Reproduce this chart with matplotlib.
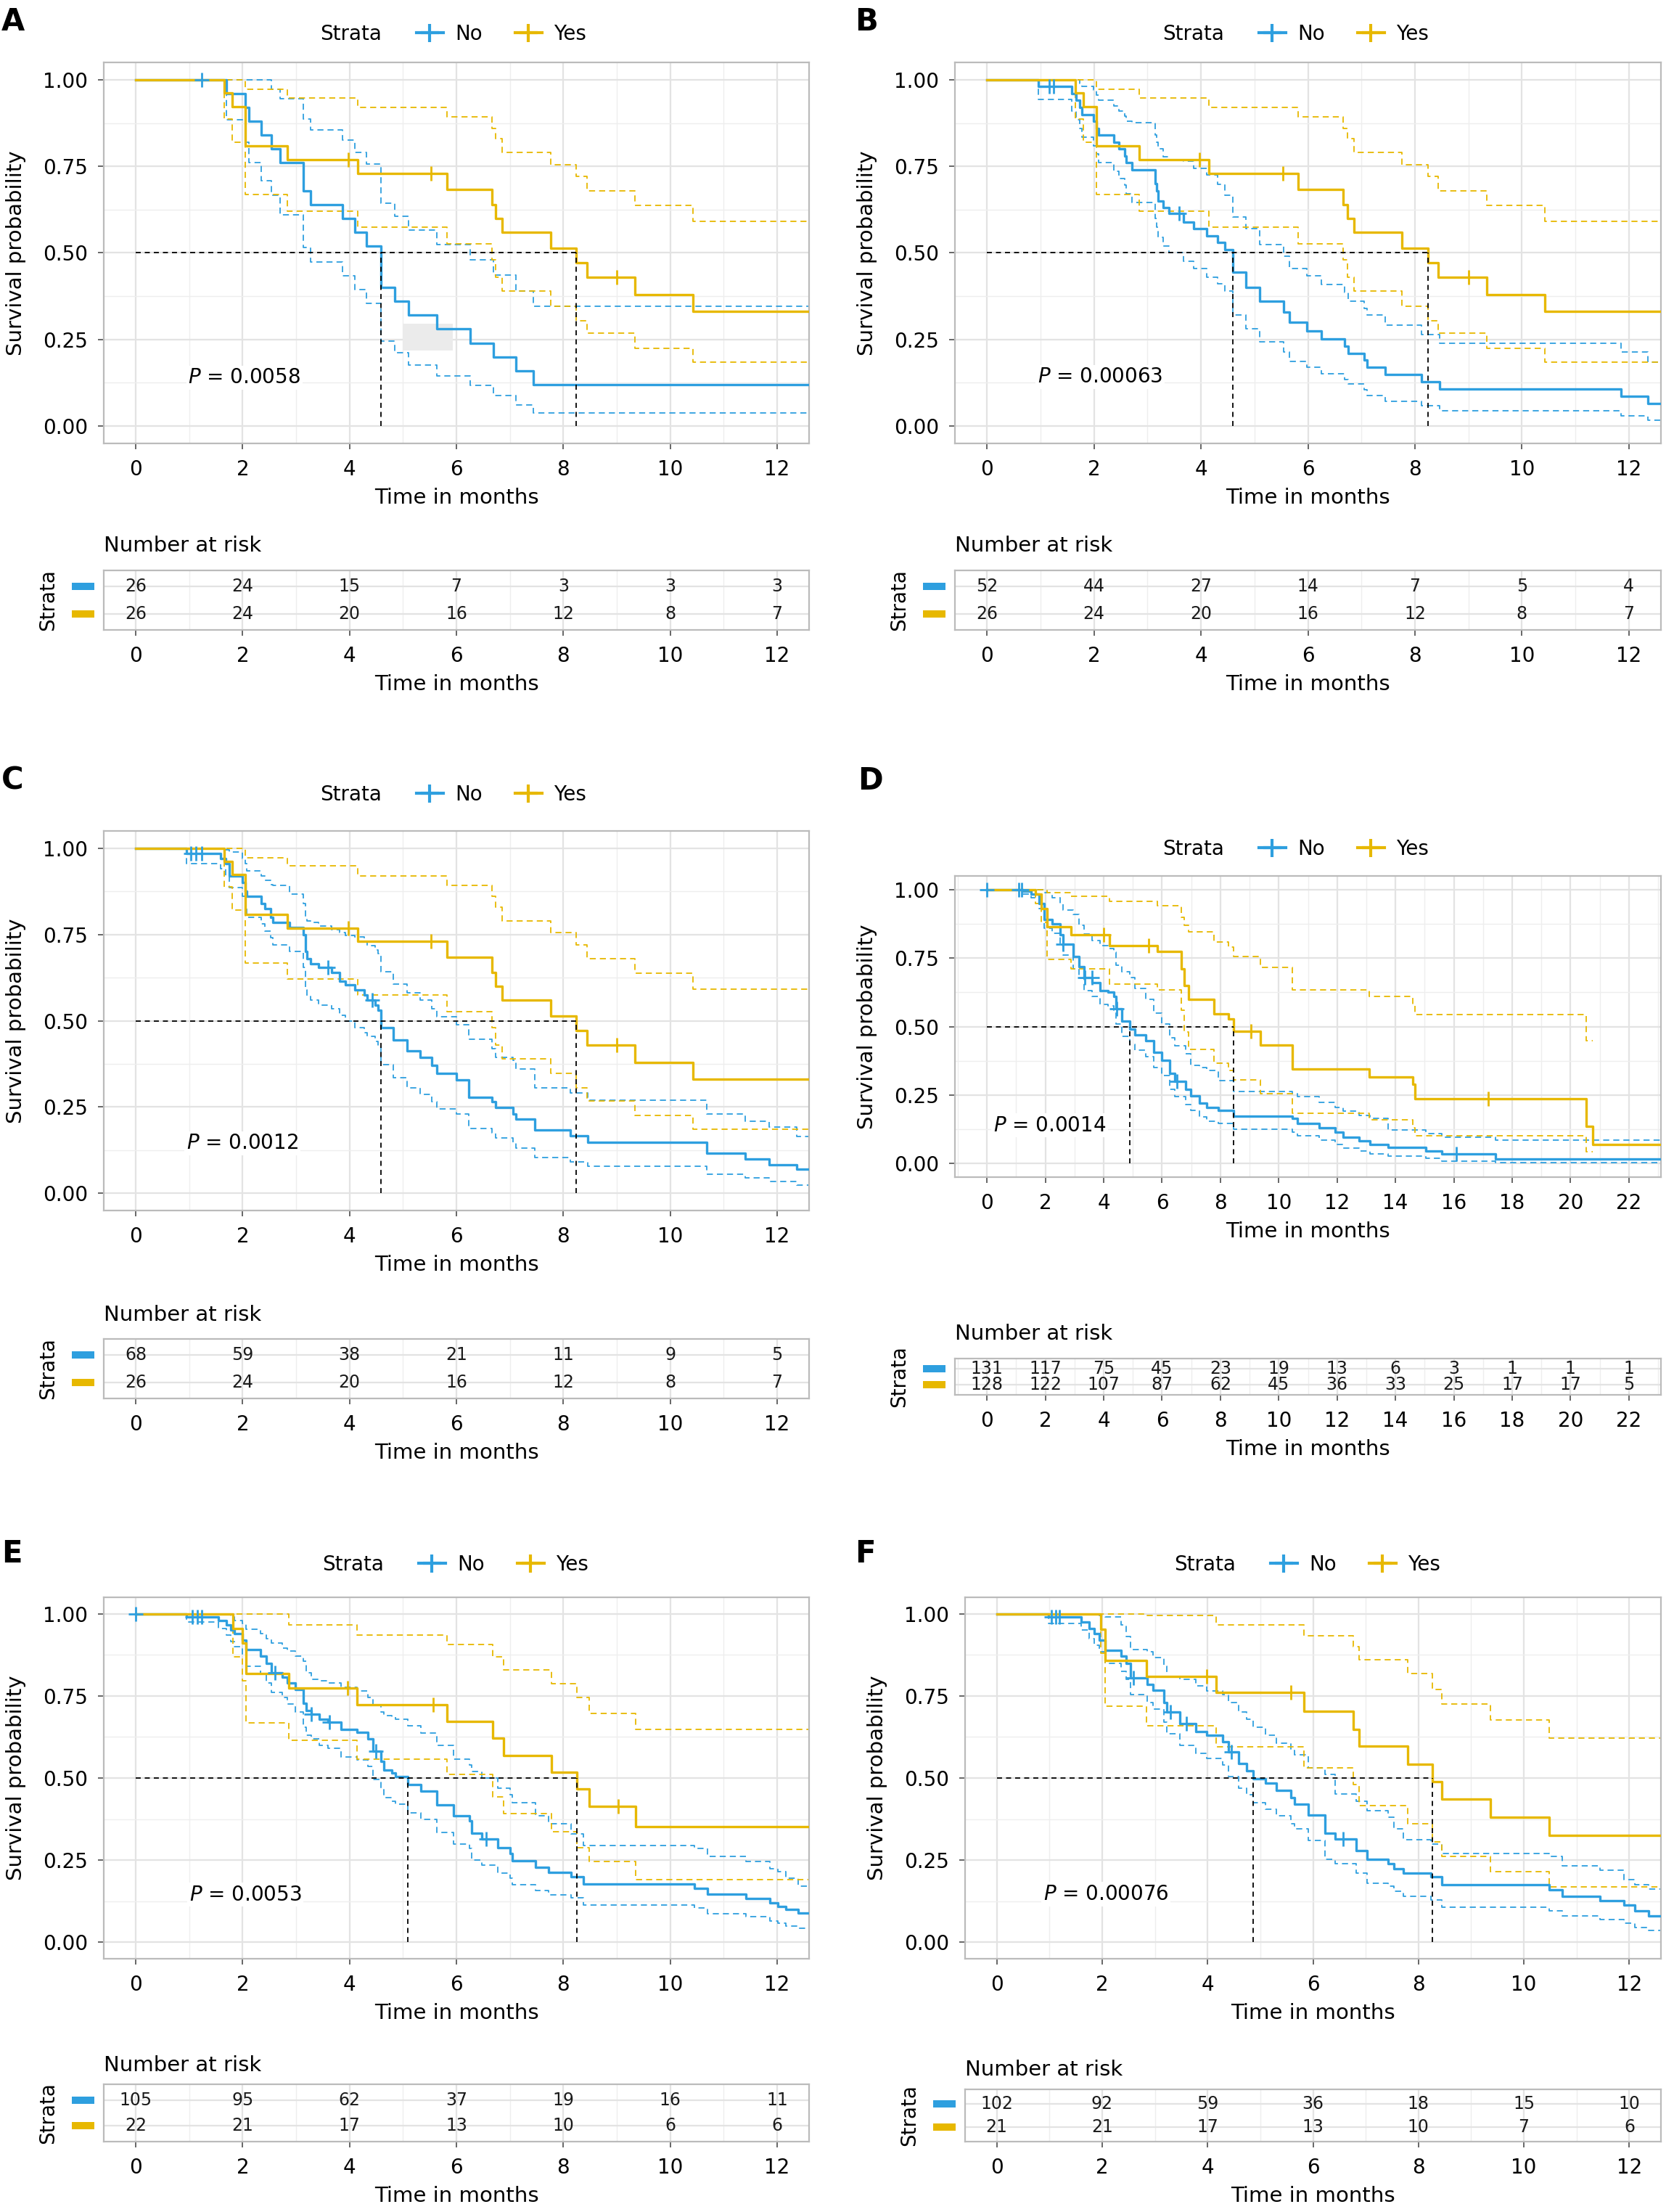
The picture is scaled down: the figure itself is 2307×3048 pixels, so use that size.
import numpy as np
import matplotlib
matplotlib.use("Agg")
import matplotlib.pyplot as plt
from matplotlib.lines import Line2D
from matplotlib.patches import Rectangle

plt.rcParams['font.family'] = ['DejaVu Sans', 'sans-serif']
plt.rcParams['mathtext.fontset'] = 'dejavusans'
plt.rcParams['lines.scale_dashes'] = False

W, H = 2307, 3048
blue, gold = '#2E9FDF', '#E7B800'
strata = ['No', 'Yes']
ticks12 = [0, 2, 4, 6, 8, 10, 12]
ticks22 = [0, 2, 4, 6, 8, 10, 12, 14, 16, 18, 20, 22]

# ---------------- data ----------------
# "Yes" group: same patients in A, B, C
yes_abc_t = [0, 1.65, 1.80, 2.05, 2.84, 4.15, 5.82, 6.66, 6.74, 6.86, 7.76, 8.24, 8.44, 9.34, 10.43]
yes_abc_s = [1, .962, .923, .808, .769, .730, .683, .640, .600, .559, .514, .472, .430, .380, .331]
yes_abc_hi = [1, 1, 1, .972, .948, .920, .892, .860, .830, .790, .755, .720, .680, .637, .592]
yes_abc_lo = [1, .887, .820, .668, .620, .575, .526, .480, .430, .390, .347, .305, .268, .225, .185]
yes_abc_cens = [3.97, 5.53, 9.0]
yes_abc_risk = [26, 24, 20, 16, 12, 8, 7]

# A
a_no_t = [0, 1.70, 2.05, 2.12, 2.35, 2.54, 2.70, 3.14, 3.27, 3.87, 4.10, 4.32, 4.59, 4.84, 5.10, 5.64, 6.26, 6.69, 7.11, 7.44]
a_no_s = [1, .96, .92, .88, .84, .80, .76, .68, .64, .60, .56, .52, .40, .36, .32, .28, .24, .20, .16, .12]
a_no_hi = [1, 1, 1, 1, 1, .972, .946, .887, .856, .826, .790, .756, .643, .605, .565, .524, .480, .437, .390, .345]
a_no_lo = [1, .885, .820, .760, .709, .667, .610, .516, .474, .435, .394, .355, .246, .211, .176, .144, .117, .089, .061, .039]
a_no_cens = [1.23]
a_no_risk = [26, 24, 15, 7, 3, 3, 3]

# B
b_no_t = [0, 0.96, 1.59, 1.67, 1.74, 1.78, 1.99, 2.04, 2.09, 2.37, 2.47, 2.57, 2.60, 2.71, 3.14, 3.17, 3.20, 3.29, 3.40, 3.67,
          3.87, 4.11, 4.31, 4.44, 4.59, 4.84, 5.10, 5.55, 5.65, 5.98, 6.25, 6.68, 6.75, 7.05, 7.10, 7.45, 8.12, 8.46, 11.85, 12.35]
b_no_s = [1, .98, .96, .94, .92, .90, .88, .86, .84, .82, .80, .78, .76, .74, .70, .68, .65, .63, .615, .59,
          .57, .55, .53, .51, .445, .40, .36, .33, .30, .275, .252, .23, .21, .19, .17, .148, .128, .107, .086, .065]
b_no_hi = [1, 1, 1, 1, .99, .98, .97, .955, .94, .925, .91, .895, .88, .876, .84, .82, .80, .778, .77, .765,
           .745, .725, .698, .667, .604, .57, .525, .49, .455, .434, .408, .385, .36, .34, .32, .292, .265, .239, .214, .184]
b_no_lo = [1, .944, .91, .885, .86, .835, .81, .785, .76, .735, .715, .695, .67, .645, .60, .575, .545, .52, .50, .475,
           .455, .43, .41, .39, .32, .281, .244, .215, .187, .169, .152, .135, .122, .105, .089, .071, .058, .045, .03, .018]
b_no_cens = [1.17, 1.24, 3.59]
b_no_risk = [52, 44, 27, 14, 7, 5, 4]

# C
c_no_t = [0, 0.95, 1.58, 1.68, 1.75, 2.00, 2.05, 2.08, 2.35, 2.42, 2.52, 2.57, 2.87, 3.14, 3.17, 3.20, 3.27, 3.42, 3.67, 3.82,
          3.92, 4.10, 4.27, 4.33, 4.48, 4.54, 4.59, 4.82, 5.07, 5.32, 5.54, 5.64, 6.00, 6.23, 6.66, 6.74, 7.06, 7.11, 7.46, 8.13,
          8.46, 10.68, 11.40, 11.85, 12.37]
c_no_s = [1, .985, .97, .955, .92, .90, .875, .86, .84, .825, .80, .785, .77, .75, .70, .68, .665, .655, .64, .615,
          .605, .59, .575, .56, .545, .53, .48, .444, .413, .394, .37, .347, .329, .279, .265, .249, .23, .216, .183, .166,
          .147, .117, .099, .082, .069]
c_no_hi = [1, 1, 1, .995, .99, .97, .955, .934, .92, .906, .895, .892, .867, .84, .80, .79, .784, .775, .765, .755,
           .748, .742, .73, .718, .705, .695, .643, .606, .582, .56, .535, .512, .488, .446, .42, .394, .385, .36, .305, .291,
           .27, .23, .209, .192, .165]
c_no_lo = [1, .955, .94, .92, .885, .86, .83, .80, .78, .76, .74, .72, .70, .655, .59, .57, .56, .545, .535, .515,
           .50, .479, .465, .455, .44, .427, .373, .335, .305, .286, .265, .244, .23, .188, .175, .16, .145, .131, .103, .091,
           .078, .056, .044, .035, .023]
c_no_cens = [1.03, 1.13, 1.23, 3.60, 4.42]
c_no_risk = [68, 59, 38, 21, 11, 9, 5]

# D
d_no_t = [0, 1.23, 1.50, 1.78, 1.96, 2.23, 2.51, 2.60, 2.96, 3.15, 3.33, 3.61, 3.88, 4.15, 4.34, 4.43, 4.61, 4.89, 5.07, 5.44,
          5.71, 5.98, 6.26, 6.44, 6.81, 6.99, 7.27, 7.54, 7.94, 8.45, 10.47, 10.65, 11.38, 11.93, 12.21, 12.76, 13.12, 13.76,
          15.04, 15.59, 17.42]
d_no_s = [1, .995, .985, .95, .89, .875, .835, .80, .755, .72, .68, .66, .63, .625, .61, .565, .52, .49, .47, .449,
          .406, .376, .33, .30, .27, .248, .22, .204, .195, .172, .165, .147, .129, .115, .097, .082, .07, .058, .046, .034, .017]
d_no_hi = [1, 1, 1, 1, .99, .97, .947, .925, .909, .87, .838, .815, .796, .785, .773, .725, .70, .678, .64, .60,
           .55, .51, .46, .43, .40, .358, .35, .34, .302, .263, .255, .245, .222, .205, .19, .175, .165, .121, .11, .095, .085]
d_no_lo = [1, .985, .97, .93, .86, .84, .795, .76, .71, .675, .63, .61, .58, .575, .555, .51, .465, .435, .415, .39,
           .35, .32, .27, .245, .215, .195, .17, .155, .145, .125, .115, .10, .085, .07, .055, .045, .036, .028, .018, .008, .003]
d_no_cens = [0.0, 1.1, 1.2, 2.6, 3.35, 3.6, 4.45, 6.5, 16.09]
d_no_risk = [131, 117, 75, 45, 23, 19, 13, 6, 3, 1, 1, 1]

d_yes_t = [0, 1.65, 1.85, 2.05, 2.87, 4.19, 5.84, 6.66, 6.77, 6.90, 7.78, 8.27, 8.45, 9.37, 10.47, 13.09, 14.59, 14.68, 20.53, 20.77]
d_yes_s = [1, .985, .93, .864, .835, .796, .775, .71, .65, .60, .547, .527, .482, .432, .344, .316, .29, .236, .135, .07]
d_yes_hi = [1, 1, 1, .99, .977, .958, .941, .90, .87, .846, .81, .79, .755, .717, .633, .61, .58, .545, .447, np.nan]
d_yes_lo = [1, .95, .88, .745, .71, .654, .633, .56, .48, .417, .366, .34, .305, .254, .182, .159, .13, .10, .044, np.nan]
d_yes_cens = [4.0, 5.53, 9.04, 17.19]
d_yes_risk = [128, 122, 107, 87, 62, 45, 36, 33, 25, 17, 17, 5]

# E
e_no_t = [0, 0.95, 1.55, 1.70, 1.77, 1.85, 2.00, 2.06, 2.34, 2.44, 2.54, 2.74, 2.84, 2.99, 3.14, 3.19, 3.29, 3.44, 3.59, 3.84,
          4.14, 4.34, 4.44, 4.59, 4.64, 4.79, 4.86, 5.09, 5.34, 5.64, 5.94, 6.24, 6.28, 6.48, 6.78, 7.00, 7.05, 7.48, 7.73, 8.15,
          8.38, 10.45, 10.70, 11.42, 11.87, 12.02, 12.17, 12.39]
e_no_s = [1, .99, .98, .965, .95, .94, .92, .891, .87, .85, .82, .807, .79, .77, .728, .705, .695, .68, .67, .649,
          .639, .62, .581, .55, .525, .515, .505, .48, .46, .419, .386, .37, .332, .315, .287, .27, .248, .228, .213, .20,
          .178, .165, .146, .134, .119, .11, .10, .089]
e_no_hi = [1, 1, 1, 1, .99, .98, .97, .953, .94, .925, .911, .895, .886, .87, .856, .82, .80, .797, .79, .777,
           .765, .745, .72, .70, .69, .685, .68, .66, .637, .60, .557, .54, .52, .50, .47, .45, .426, .385, .36, .33,
           .295, .285, .262, .245, .225, .215, .195, .17]
e_no_lo = [1, .975, .955, .935, .915, .90, .875, .84, .815, .79, .76, .745, .725, .70, .655, .63, .62, .60, .59, .565,
           .555, .535, .495, .465, .44, .43, .42, .395, .375, .335, .30, .285, .25, .235, .21, .195, .175, .158, .145, .135,
           .114, .105, .088, .078, .065, .058, .05, .042]
e_no_cens = [0.0, 1.05, 1.15, 1.23, 2.61, 3.29, 3.62, 4.49, 6.55]
e_no_risk = [105, 95, 62, 37, 19, 16, 11]

e_yes_t = [0, 1.82, 2.00, 2.06, 2.86, 4.14, 5.82, 6.68, 6.88, 7.78, 8.25, 8.48, 9.36]
e_yes_s = [1, .955, .91, .818, .773, .723, .673, .621, .569, .518, .466, .413, .353]
e_yes_hi = [1, 1, 1, 1, .967, .936, .906, .868, .829, .787, .745, .696, .647]
e_yes_lo = [1, .869, .797, .668, .614, .557, .51, .443, .391, .337, .287, .245, .191]
e_yes_cens = [3.96, 5.56, 9.03]
e_yes_risk = [22, 21, 17, 13, 10, 6, 6]

# F
f_no_t = [0, 0.98, 1.60, 1.75, 1.85, 1.95, 2.05, 2.36, 2.46, 2.54, 2.86, 2.96, 3.17, 3.22, 3.47, 3.78, 3.98, 4.28, 4.39, 4.59,
          4.74, 4.87, 5.10, 5.30, 5.58, 5.65, 5.91, 6.23, 6.42, 6.82, 7.03, 7.43, 7.53, 7.72, 8.24, 8.45, 10.48, 10.73, 11.44,
          11.90, 12.10, 12.36]
f_no_s = [1, .99, .975, .955, .94, .92, .888, .87, .85, .805, .785, .768, .73, .70, .665, .641, .63, .61, .58, .545,
          .523, .497, .485, .462, .44, .42, .387, .333, .315, .279, .252, .24, .224, .21, .20, .175, .16, .14, .127, .114,
          .096, .081]
f_no_hi = [1, 1, 1, 1, 1, .995, .99, .965, .93, .891, .885, .867, .84, .81, .80, .78, .765, .753, .73, .70,
           .68, .654, .63, .605, .585, .57, .531, .51, .452, .43, .40, .38, .345, .312, .30, .271, .262, .232, .219, .19,
           .175, .163]
f_no_lo = [1, .97, .95, .925, .905, .885, .85, .825, .80, .755, .73, .71, .67, .635, .60, .575, .56, .54, .505, .47,
           .45, .425, .405, .385, .36, .345, .31, .253, .24, .21, .18, .17, .155, .14, .13, .106, .095, .081, .07, .058,
           .045, .037]
f_no_cens = [1.04, 1.12, 1.19, 2.59, 3.29, 3.6, 4.45, 6.57]
f_no_risk = [102, 92, 59, 36, 18, 15, 10]

f_yes_t = [0, 1.98, 2.05, 2.84, 4.16, 5.83, 6.77, 6.87, 7.79, 8.26, 8.45, 9.36, 10.48]
f_yes_s = [1, .952, .857, .81, .76, .704, .649, .597, .543, .49, .436, .38, .326]
f_yes_hi = [1, 1, 1, .995, .967, .934, .90, .859, .817, .77, .726, .676, .622]
f_yes_lo = [1, .88, .718, .66, .595, .531, .48, .415, .36, .305, .261, .216, .168]
f_yes_cens = [3.98, 5.58]
f_yes_risk = [21, 21, 17, 13, 10, 7, 6]

pvals = {'A': '0.0058', 'B': '0.00063', 'C': '0.0012', 'D': '0.0014', 'E': '0.0053', 'F': '0.00076'}

# ---------------- layout (pixels) ----------------
layout = {
    'A': dict(plot=(143, 86, 1115, 611), table=(143, 786, 1115, 868), nar=752, letter=(2, 9),
              legend=(526, 47), pval=(0.98, 0.14), xlim=(-0.6, 12.6)),
    'B': dict(plot=(1316, 86, 2289, 611), table=(1316, 786, 2289, 868), nar=752, letter=(1178, 9),
              legend=(1687, 47), pval=(0.94, 0.142), xlim=(-0.6, 12.6)),
    'C': dict(plot=(143, 1145, 1115, 1668), table=(143, 1845, 1115, 1927), nar=1812, letter=(2, 1055),
              legend=(526, 1095), pval=(0.95, 0.145), xlim=(-0.6, 12.6)),
    'D': dict(plot=(1316, 1207, 2289, 1622), table=(1316, 1872, 2289, 1922), nar=1838, letter=(1182, 1055),
              legend=(1687, 1170), pval=(0.22, 0.139), xlim=(-1.1, 23.1)),
    'E': dict(plot=(143, 2201, 1115, 2699), table=(143, 2872, 1115, 2951), nar=2846, letter=(2, 2120),
              legend=(529, 2156), pval=(1.0, 0.145), xlim=(-0.6, 12.6)),
    'F': dict(plot=(1330, 2201, 2289, 2699), table=(1330, 2879, 2289, 2951), nar=2852, letter=(1178, 2120),
              legend=(1703, 2156), pval=(0.88, 0.147), xlim=(-0.6, 12.6)),
}

fig = plt.figure(figsize=(W / 100, H / 100), dpi=100)


def px_axes(box):
    l, t, r, b = box
    return fig.add_axes([l / W, 1 - b / H, (r - l) / W, (b - t) / H])


def style_axes(ax, xlim, ticks):
    ax.set_xlim(*xlim)
    ax.set_xticks(ticks)
    minor = [v for v in range(int(np.floor(xlim[0])), int(np.ceil(xlim[1])) + 1)
             if v % 2 == 1 and xlim[0] < v < xlim[1]]
    ax.set_xticks(minor, minor=True)
    ax.grid(which='major', color='#E3E3E3', lw=1.6)
    ax.grid(which='minor', color='#EEEEEE', lw=1.0)
    ax.set_axisbelow(True)
    for sp in ax.spines.values():
        sp.set_color('#BBBBBB')
        sp.set_linewidth(1.6)
    ax.tick_params(which='major', labelsize=20, length=6, width=1.2, color='#4D4D4D', pad=9.5)
    ax.tick_params(which='minor', length=0)


def km_panel(key, no, yes, risk_no, risk_yes, ticks):
    L = layout[key]
    ax = px_axes(L['plot'])
    style_axes(ax, L['xlim'], ticks)
    ax.set_ylim(-0.05, 1.05)
    ax.set_yticks([0, .25, .5, .75, 1])
    ax.set_yticklabels(['0.00', '0.25', '0.50', '0.75', '1.00'])
    ax.set_yticks([.125, .375, .625, .875], minor=True)
    xend = L['xlim'][1] + 1

    medians = []
    for (t, s, hi, lo, cens), col in zip([no, yes], [blue, gold]):
        t, s = np.asarray(t, float), np.asarray(s, float)
        tt = np.append(t, xend)
        for arr in (hi, lo):
            arr = np.asarray(arr, float)
            ax.step(tt, np.append(arr, arr[-1]), where='post', color=col, lw=1.3,
                    linestyle=(0, (6, 4)), zorder=2)
        ax.step(tt, np.append(s, s[-1]), where='post', color=col, lw=2.4, zorder=3)
        idx = np.searchsorted(t, cens, side='right') - 1
        ax.plot(cens, s[idx], ls='none', marker='+', ms=15, mew=2, color=col, zorder=5)
        medians.append(t[np.argmax(s <= 0.5)])

    ax.plot([0, max(medians)], [0.5, 0.5], color='black', lw=1.3, ls=(0, (5, 4)), zorder=4)
    for m in medians:
        ax.plot([m, m], [0, 0.5], color='black', lw=1.3, ls=(0, (5, 4)), zorder=4)

    if key == 'A':
        ax.add_patch(Rectangle((5.0, 0.219), 0.93, 0.077, facecolor='#EBEBEB', edgecolor='none', zorder=1))

    px, py = L['pval']
    ax.text(px, py, r'$\mathit{P}$ = ' + pvals[key], fontsize=20, ha='left', va='center', zorder=3,
            bbox=dict(facecolor='white', edgecolor='none', pad=2))
    ax.set_xlabel('Time in months', fontsize=21, labelpad=8)
    ax.annotate('Survival probability', xy=(0, 0.5), xycoords='axes fraction', xytext=(-121, 0),
                textcoords='offset pixels', rotation=90, ha='center', va='center', fontsize=21)

    # legend
    sr, ly = L['legend']
    fig.text(sr / W, 1 - ly / H, 'Strata', ha='right', va='center', fontsize=20)
    handles = [Line2D([], [], color=c, lw=3, marker='+', ms=18, mew=3) for c in (blue, gold)]
    fig.legend(handles, strata, loc='center left', bbox_to_anchor=((sr + 48) / W, 1 - ly / H),
               ncol=2, frameon=False, borderpad=0, borderaxespad=0, handlelength=1.33,
               handletextpad=0.58, columnspacing=1.62, fontsize=20)

    lx, ltop = L['letter']
    fig.text(lx / W, 1 - ltop / H, key, fontsize=30, fontweight='bold', ha='left', va='top')

    # risk table
    tl, tt_, tr, tb = L['table']
    wpx, hpx = tr - tl, tb - tt_
    tx = px_axes(L['table'])
    style_axes(tx, L['xlim'], ticks)
    ylo, yhi = -0.6, 1.6
    tx.set_ylim(ylo, yhi)
    tx.set_yticks([0, 1])
    tx.set_yticklabels([])
    tx.tick_params(axis='y', length=0)
    for row, vals, col in [(1, risk_no, blue), (0, risk_yes, gold)]:
        for x, v in zip(ticks, vals):
            tx.text(x, row, str(v), ha='center', va='center', fontsize=17, color='#1A1A1A')
        ya = (row - ylo) / (yhi - ylo)
        tx.add_patch(Rectangle((-44 / wpx, ya - 5 / hpx), 31 / wpx, 10 / hpx, transform=tx.transAxes,
                               clip_on=False, facecolor=col, edgecolor='none'))
    tx.set_xlabel('Time in months', fontsize=21, labelpad=8)
    tx.annotate('Number at risk', xy=(0, 1), xycoords='axes fraction', xytext=(0, tt_ - L['nar']),
                textcoords='offset pixels', ha='left', va='center', fontsize=21)
    tx.annotate('Strata', xy=(0, 0.5), xycoords='axes fraction', xytext=(-77, 0),
                textcoords='offset pixels', rotation=90, ha='center', va='center', fontsize=20)


yes_abc = (yes_abc_t, yes_abc_s, yes_abc_hi, yes_abc_lo, yes_abc_cens)
km_panel('A', (a_no_t, a_no_s, a_no_hi, a_no_lo, a_no_cens), yes_abc, a_no_risk, yes_abc_risk, ticks12)
km_panel('B', (b_no_t, b_no_s, b_no_hi, b_no_lo, b_no_cens), yes_abc, b_no_risk, yes_abc_risk, ticks12)
km_panel('C', (c_no_t, c_no_s, c_no_hi, c_no_lo, c_no_cens), yes_abc, c_no_risk, yes_abc_risk, ticks12)
km_panel('D', (d_no_t, d_no_s, d_no_hi, d_no_lo, d_no_cens),
         (d_yes_t, d_yes_s, d_yes_hi, d_yes_lo, d_yes_cens), d_no_risk, d_yes_risk, ticks22)
km_panel('E', (e_no_t, e_no_s, e_no_hi, e_no_lo, e_no_cens),
         (e_yes_t, e_yes_s, e_yes_hi, e_yes_lo, e_yes_cens), e_no_risk, e_yes_risk, ticks12)
km_panel('F', (f_no_t, f_no_s, f_no_hi, f_no_lo, f_no_cens),
         (f_yes_t, f_yes_s, f_yes_hi, f_yes_lo, f_yes_cens), f_no_risk, f_yes_risk, ticks12)

fig.savefig('out.png', dpi=100)
